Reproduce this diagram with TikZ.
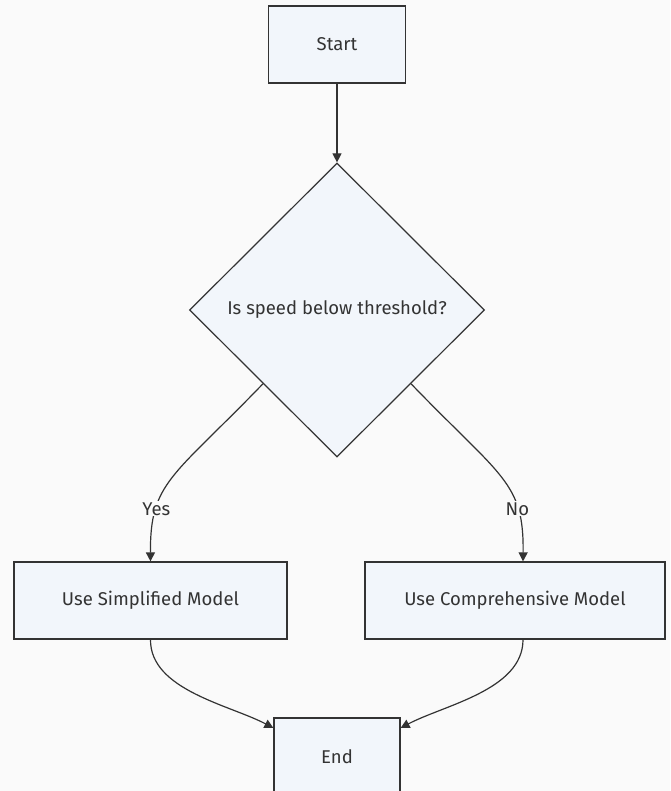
\documentclass[tikz,border=0pt]{standalone}
\usepackage{fontspec}
\setmainfont{Fira Sans}
\usetikzlibrary{shapes.geometric,arrows.meta}
\definecolor{pagebg}{HTML}{FAFAFA}
\definecolor{boxfill}{HTML}{F2F6FB}
\definecolor{lineclr}{HTML}{333333}
\begin{document}
\begin{tikzpicture}[x=1pt,y=-1pt,
  every node/.style={font=\fontsize{18.5}{20}\selectfont, text=lineclr},
  procbox/.style={draw=lineclr, line width=1.2pt, fill=boxfill, rectangle, inner sep=0pt},
  decbox/.style={draw=lineclr, line width=1.2pt, fill=boxfill, diamond, shape aspect=1, inner sep=0pt, minimum width=295pt, minimum height=294pt},
  conn/.style={draw=lineclr, line width=1.2pt, -{Triangle[width=9pt,length=9pt]}},
  elabel/.style={fill=pagebg, inner sep=1pt}
]
\useasboundingbox[fill=pagebg] (0,0) rectangle (670,791);
\node[procbox, minimum width=137pt, minimum height=77pt] (start) at (337,44.5) {Start};
\node[decbox] (dec) at (337,310) {Is speed below threshold?};
\node[procbox, minimum width=273pt, minimum height=77pt] (simp) at (150.5,600.5) {Use Simplified Model};
\node[procbox, minimum width=300pt, minimum height=77pt] (comp) at (515,600.5) {Use Comprehensive Model};
\node[procbox, minimum width=126pt, minimum height=77pt] (endn) at (337,756.5) {End};
\draw[conn] (start.south) -- (dec.north);
\draw[conn] (dec.south west) .. controls (172,478) and (150,482) .. node[pos=0.72, elabel] {Yes} (simp.north);
\draw[conn] (dec.south east) .. controls (502,478) and (524,482) .. node[pos=0.72, elabel] {No} (comp.north -| 523,0);
\draw[conn] (simp.south) .. controls (150,690) and (230,705) .. (endn.north west |- 0,728);
\draw[conn] (comp.south -| 523,0) .. controls (523,690) and (444,705) .. (endn.north east |- 0,728);
\end{tikzpicture}
\end{document}
